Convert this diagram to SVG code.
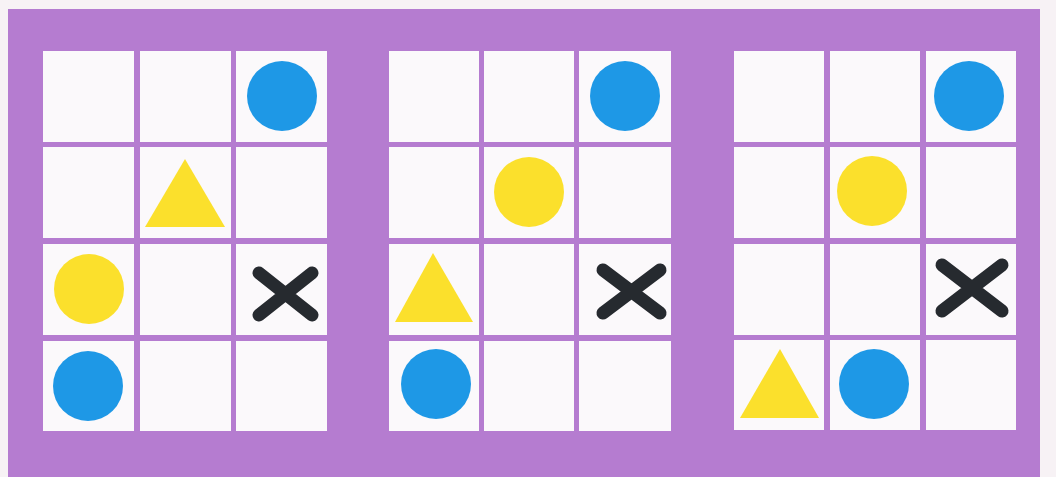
<svg xmlns="http://www.w3.org/2000/svg" width="1056" height="477" viewBox="0 0 1056 477">
<defs>
<style>
.cell{fill:#fbf9fb}
.blue{fill:#1e98e6}
.yel{fill:#fbe02c}
.x{stroke:#262a2f;stroke-width:13;stroke-linecap:round;fill:none}
</style>
</defs>
<rect x="0" y="0" width="1056" height="477" fill="#f7f2f5"/>
<rect id="frame" x="8" y="9" width="1032" height="468" fill="#b57cd0"/>
<g id="grid1">
<rect class="cell" x="43" y="51" width="91" height="91"/>
<rect class="cell" x="140" y="51" width="91" height="91"/>
<rect class="cell" x="236" y="51" width="91" height="91"/>
<rect class="cell" x="43" y="147" width="91" height="91"/>
<rect class="cell" x="140" y="147" width="91" height="91"/>
<rect class="cell" x="236" y="147" width="91" height="91"/>
<rect class="cell" x="43" y="244" width="91" height="91"/>
<rect class="cell" x="140" y="244" width="91" height="91"/>
<rect class="cell" x="236" y="244" width="91" height="91"/>
<rect class="cell" x="43" y="341" width="91" height="90"/>
<rect class="cell" x="140" y="341" width="91" height="90"/>
<rect class="cell" x="236" y="341" width="91" height="90"/>
<circle class="blue" cx="282" cy="96" r="35"/>
<polygon class="yel" points="185,159 145,227 225,227"/>
<circle class="yel" cx="89" cy="289" r="35"/>
<path class="x" d="M259,273 L312,315 M312,273 L259,315"/>
<circle class="blue" cx="88" cy="386" r="35"/>
</g>
<g id="grid2">
<rect class="cell" x="389" y="51" width="90" height="91"/>
<rect class="cell" x="484" y="51" width="90" height="91"/>
<rect class="cell" x="579" y="51" width="92" height="91"/>
<rect class="cell" x="389" y="147" width="90" height="91"/>
<rect class="cell" x="484" y="147" width="90" height="91"/>
<rect class="cell" x="579" y="147" width="92" height="91"/>
<rect class="cell" x="389" y="244" width="90" height="91"/>
<rect class="cell" x="484" y="244" width="90" height="91"/>
<rect class="cell" x="579" y="244" width="92" height="91"/>
<rect class="cell" x="389" y="341" width="90" height="90"/>
<rect class="cell" x="484" y="341" width="90" height="90"/>
<rect class="cell" x="579" y="341" width="92" height="90"/>
<circle class="blue" cx="625" cy="96" r="35"/>
<circle class="yel" cx="529" cy="192" r="35"/>
<polygon class="yel" points="433,253 395,322 473,322"/>
<path class="x" d="M603,270 L660,313 M660,270 L603,313"/>
<circle class="blue" cx="436" cy="384" r="35"/>
</g>
<g id="grid3">
<rect class="cell" x="734" y="51" width="90" height="91"/>
<rect class="cell" x="830" y="51" width="90" height="91"/>
<rect class="cell" x="926" y="51" width="90" height="91"/>
<rect class="cell" x="734" y="147" width="90" height="91"/>
<rect class="cell" x="830" y="147" width="90" height="91"/>
<rect class="cell" x="926" y="147" width="90" height="91"/>
<rect class="cell" x="734" y="244" width="90" height="91"/>
<rect class="cell" x="830" y="244" width="90" height="91"/>
<rect class="cell" x="926" y="244" width="90" height="91"/>
<rect class="cell" x="734" y="340" width="90" height="90"/>
<rect class="cell" x="830" y="340" width="90" height="90"/>
<rect class="cell" x="926" y="340" width="90" height="90"/>
<circle class="blue" cx="969" cy="96" r="35"/>
<circle class="yel" cx="872" cy="191" r="35"/>
<path class="x" d="M942,265 L1002,311 M1002,265 L942,311"/>
<polygon class="yel" points="780,349 740,418 819,418"/>
<circle class="blue" cx="874" cy="384" r="35"/>
</g>
</svg>
